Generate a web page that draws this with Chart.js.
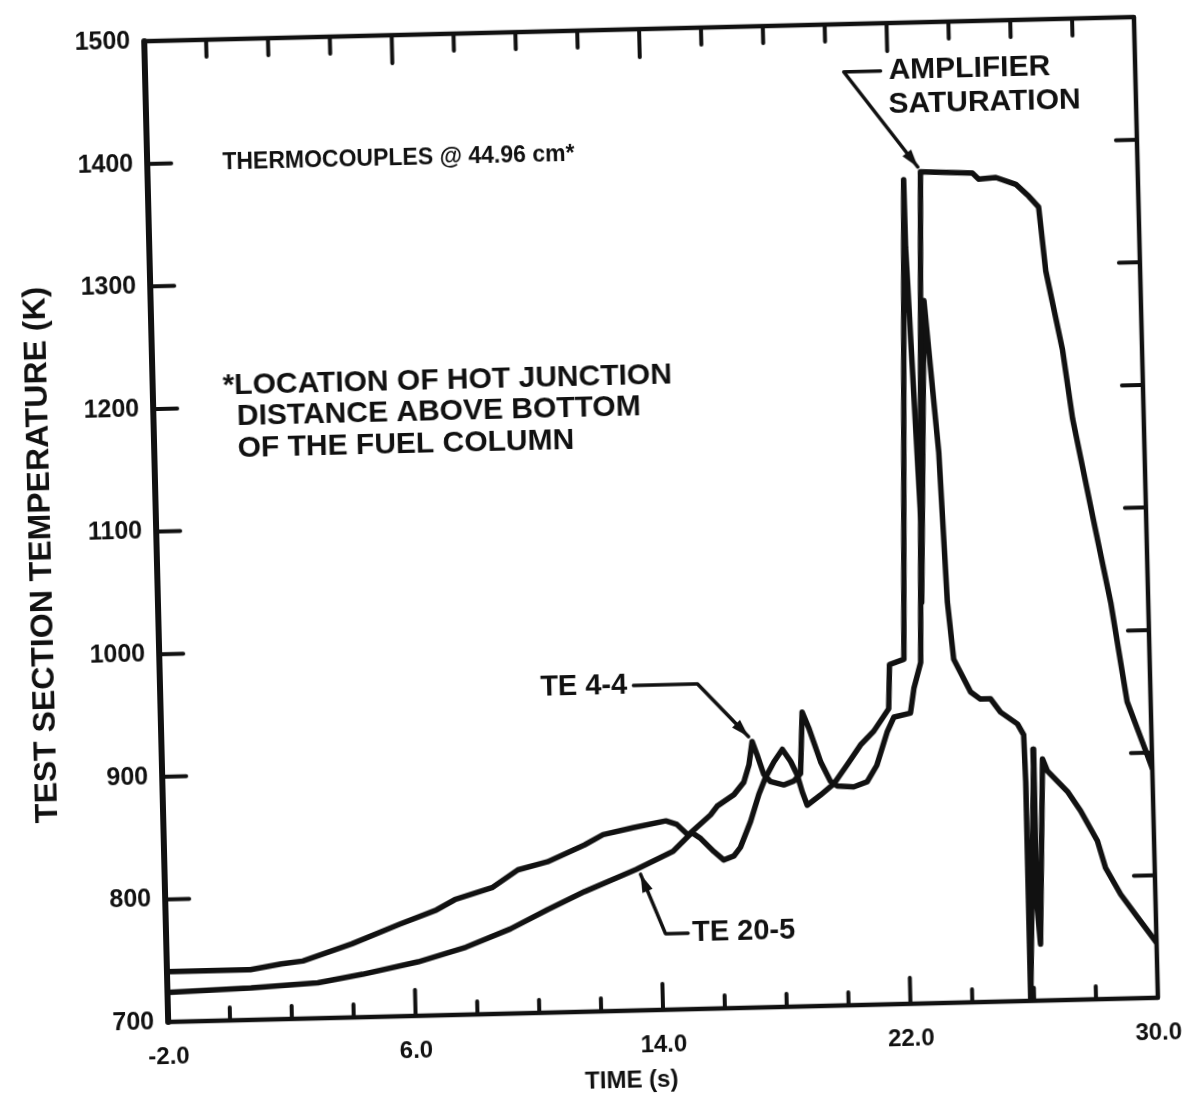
<!DOCTYPE html>
<html>
<head>
<meta charset="utf-8">
<title>Test section temperature</title>
<script src="https://cdn.jsdelivr.net/npm/chart.js@4.4.1/dist/chart.umd.min.js"></script>
<style>
  html, body { margin: 0; padding: 0; background: #fff; overflow: hidden; }
  /* the scanned original sits a little crooked on the page */
  #chart { position: absolute; left: 0; top: 0; transform: rotate(-1.4deg); transform-origin: 651px 517px; }
</style>
</head>
<body>
<canvas id="chart" width="1194" height="1098"></canvas>
<script>
// Thermocouple TE 4-4 (starts on the upper trace, saturates the amplifier)
const te44Time = [-2, 0.7, 1.7, 2.4, 4.0, 5.55, 6.76, 7.36, 8.57, 9.42, 10.38, 11.59, 12.2, 13.16, 14.24, 14.59, 14.95,
  15.69, 15.91, 16.46, 16.79, 16.97, 17.09, 17.24, 17.44, 17.65, 18.08, 18.41, 18.63, 18.73, 18.93, 19.29, 19.59,
  19.81, 20.34, 20.78, 21.1, 21.46, 21.69, 22.23, 22.36, 22.6, 22.98, 24.66, 24.85, 25.41, 26.05, 26.46, 26.77,
  26.95, 27.43, 27.7, 28.3, 28.79, 29.24, 29.85, 30];
const te44Temp = [741, 741, 745, 747, 760, 775, 786, 794, 803, 817, 823, 836, 844, 849, 854, 851, 842,
  858, 865, 874, 884, 898, 917, 906, 890, 884, 881, 884, 890, 940, 927, 899, 883,
  879, 878, 882, 895, 922, 934, 937, 957, 978, 1378, 1376, 1371, 1372, 1366, 1356, 1347,
  1295, 1230, 1174, 1090, 1023, 942, 898, 887];

// Thermocouple TE 20-5 (starts on the lower trace)
const te205Time = [-2, 0.71, 2.87, 4.32, 6.12, 7.68, 9.13, 10.35, 11.56, 13.24, 14.45, 15.07, 15.35, 15.77, 16.08,
  16.41, 16.63, 16.98, 17.27, 17.49, 17.78, 18.06, 18.32, 18.52, 18.67, 18.82, 19.26, 19.7, 20.14, 20.59, 21.03,
  21.53, 21.59, 22.06, 22.43, 22.44, 22.73, 22.68, 22.99, 23.35, 23.51, 23.67, 24.19, 24.5, 24.83, 25.14, 25.68,
  25.87, 25.9, 25.89, 26.18, 26.16, 26.25, 26.46, 26.61, 27.24, 27.65, 28.17, 28.41, 28.88, 29.41, 30];
const te205Temp = [724, 726, 729, 735, 744, 755, 769, 784, 798, 815, 829, 844, 839, 828, 821,
  824, 831, 852, 874, 887, 900, 910, 900, 889, 875, 864, 872, 881, 896, 912, 923,
  941, 977, 981, 1372, 1317, 1084, 1027, 1273, 1149, 1027, 980, 953, 947, 947, 936, 926,
  917, 879, 700, 905, 781, 746, 897, 887, 870, 854, 829, 807, 785, 766, 745];

const timeLabels = [-2, 6, 14, 22, 30];
const tempTicks = [700, 800, 900, 1000, 1100, 1200, 1300, 1400, 1500];

const ink = '#111';
const family = '"Liberation Sans", Arial, sans-serif';

const toPoints = (xs, ys) => xs.map((x, i) => ({ x, y: ys[i] }));

const line = (ctx, x1, y1, x2, y2) => {
  ctx.beginPath();
  ctx.moveTo(x1, y1);
  ctx.lineTo(x2, y2);
  ctx.stroke();
};

// leader line through data points, arrow head on the last one
const leader = (ctx, pts) => {
  ctx.beginPath();
  pts.forEach((p, i) => (i ? ctx.lineTo(p[0], p[1]) : ctx.moveTo(p[0], p[1])));
  ctx.stroke();
  const [bx, by] = pts[pts.length - 2];
  const [tx, ty] = pts[pts.length - 1];
  const ang = Math.atan2(ty - by, tx - bx);
  const len = 18, half = 5.5;
  ctx.beginPath();
  ctx.moveTo(tx, ty);
  ctx.lineTo(tx - len * Math.cos(ang) + half * Math.sin(ang), ty - len * Math.sin(ang) - half * Math.cos(ang));
  ctx.lineTo(tx - len * Math.cos(ang) - half * Math.sin(ang), ty - len * Math.sin(ang) + half * Math.cos(ang));
  ctx.closePath();
  ctx.fill();
};

const framePlugin = {
  id: 'frameAndNotes',
  afterDraw(chart) {
    const { ctx, chartArea: a, scales: { x, y } } = chart;
    const P = (t, T) => [x.getPixelForValue(t), y.getPixelForValue(T)];
    ctx.save();
    ctx.strokeStyle = ink;
    ctx.fillStyle = ink;
    ctx.lineCap = 'round';
    ctx.lineJoin = 'round';

    // box
    ctx.lineWidth = 4.5;
    ctx.strokeRect(a.left, a.top, a.right - a.left, a.bottom - a.top);
    ctx.lineWidth = 6;
    line(ctx, a.left, a.top, a.left, a.bottom);

    // inward tick marks
    ctx.lineWidth = 4;
    for (let t = 0; t < 30; t += 2) {
      const px = x.getPixelForValue(t);
      const major = timeLabels.includes(t);
      line(ctx, px, a.bottom, px, a.bottom - (major ? 26 : 13));
      line(ctx, px, a.top, px, a.top + (major ? 28 : 17));
    }
    tempTicks.slice(1, -1).forEach(T => {
      const py = y.getPixelForValue(T);
      line(ctx, a.left, py, a.left + 24, py);
      line(ctx, a.right, py, a.right - 21, py);
    });

    // axis titles
    ctx.textBaseline = 'middle';
    ctx.textAlign = 'center';
    ctx.font = `bold 24px ${family}`;
    ctx.fillText('TIME (s)', a.left + 462, a.bottom + 70);
    ctx.save();
    ctx.translate(a.left - 115, a.top + 511);
    ctx.rotate(-Math.PI / 2);
    ctx.font = `bold 32px ${family}`;
    ctx.fillText('TEST SECTION TEMPERATURE (K)', 0, 0);
    ctx.restore();

    // notes
    ctx.textAlign = 'left';
    ctx.font = `bold 23px ${family}`;
    ctx.fillText('THERMOCOUPLES @ 44.96 cm*', ...P(0.43, 1399));
    ctx.font = `bold 30px ${family}`;
    ctx.fillText('*LOCATION OF HOT JUNCTION', ...P(0.26, 1217));
    ctx.fillText('DISTANCE ABOVE BOTTOM', ...P(0.7, 1192));
    ctx.fillText('OF THE FUEL COLUMN', ...P(0.7, 1166));
    ctx.fillText('AMPLIFIER', ...P(22.03, 1461));
    ctx.fillText('SATURATION', ...P(22.0, 1433));
    ctx.font = `bold 29px ${family}`;
    ctx.fillText('TE 20-5', ...P(15.0, 762));
    ctx.textAlign = 'right';
    ctx.fillText('TE 4-4', ...P(13.1, 965));

    // leaders
    ctx.lineWidth = 3.5;
    leader(ctx, [P(21.77, 1461), P(20.58, 1461), P(22.9, 1382)]);
    leader(ctx, [P(13.3, 965), P(15.37, 965), P(16.98, 921)]);
    leader(ctx, [P(14.87, 762), P(14.14, 762), P(13.38, 811)]);
    ctx.restore();
  }
};

const traceStyle = {
  borderColor: ink,
  borderWidth: 5.5,
  borderJoinStyle: 'round',
  borderCapStyle: 'round',
  pointRadius: 0,
  tension: 0,
  fill: false
};

new Chart(document.getElementById('chart'), {
  type: 'line',
  data: {
    datasets: [
      { label: 'TE 4-4', data: toPoints(te44Time, te44Temp), ...traceStyle },
      { label: 'TE 20-5', data: toPoints(te205Time, te205Temp), ...traceStyle }
    ]
  },
  options: {
    responsive: false,
    animation: false,
    devicePixelRatio: 1,
    layout: { padding: { left: 0, right: 48, top: 24, bottom: 0 } },
    plugins: { legend: { display: false }, tooltip: { enabled: false } },
    scales: {
      x: {
        type: 'linear',
        min: -2,
        max: 30,
        grid: { display: false, drawTicks: false },
        border: { display: false },
        ticks: {
          stepSize: 2,
          autoSkip: false,
          maxRotation: 0,
          padding: 21,
          color: ink,
          font: { family, size: 24, weight: 'bold' },
          callback: v => (timeLabels.includes(v) ? v.toFixed(1) : '')
        },
        afterFit(scale) { scale.height = 88; }
      },
      y: {
        min: 700,
        max: 1500,
        grid: { display: false, drawTicks: false },
        border: { display: false },
        ticks: {
          stepSize: 100,
          padding: 14,
          color: ink,
          font: { family, size: 25, weight: 'bold' },
          callback: v => (tempTicks.includes(v) ? String(v) : '')
        },
        afterFit(scale) { scale.width = 156; }
      }
    }
  },
  plugins: [framePlugin]
});
</script>
</body>
</html>
